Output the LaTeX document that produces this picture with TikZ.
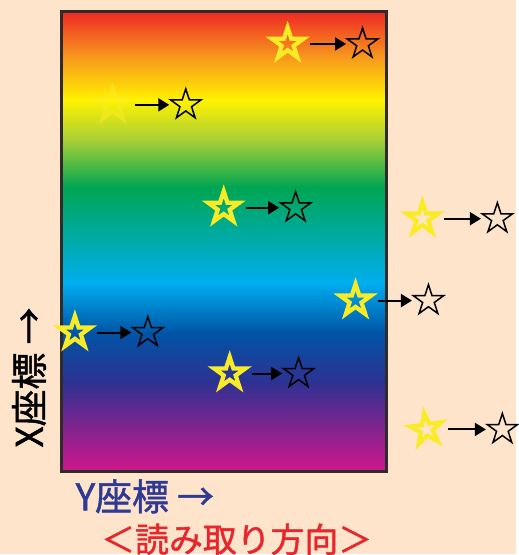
\documentclass[tikz,border=0pt]{standalone}
\usepackage{fontspec}
\newfontfamily\jpfont{Noto Sans CJK JP}[FakeBold=1.3]
\usepackage{tikz}
\usepackage{xcolor}
\usetikzlibrary{arrows.meta,shapes.geometric,calc}

\definecolor{paper}{HTML}{FDE4CA}
\definecolor{frame}{HTML}{2F2B2B}
\definecolor{rbRed}{HTML}{EE2A24}
\definecolor{rbOrange}{HTML}{F7941D}
\definecolor{rbYellow}{HTML}{FFF200}
\definecolor{rbLime}{HTML}{A8CF38}
\definecolor{rbGreen}{HTML}{00A651}
\definecolor{rbCyan}{HTML}{00AEEF}
\definecolor{rbBlue}{HTML}{0054A6}
\definecolor{rbIndigo}{HTML}{2E3192}
\definecolor{rbMagenta}{HTML}{D0178C}
\definecolor{starYellow}{HTML}{F9EC27}
\definecolor{axisBlue}{HTML}{2E3A93}
\definecolor{readRed}{HTML}{E8262B}

\begin{document}
\begin{tikzpicture}[
		x=0.02cm,
		y=0.02cm,
		line join=miter,
		ystar/.style={
			star,
			star points=5,
			star point ratio=2.618,
			minimum size=0.66cm,
			inner sep=0pt,
			draw=starYellow,
			line width=0.085cm
		},
		bstar/.style={
			star,
			star points=5,
			star point ratio=2.618,
			minimum size=0.64cm,
			inner sep=0pt,
			draw=black,
			line width=0.03cm
		},
		shiftarrow/.style={
			draw=black,
			line width=0.04cm,
			shorten <=0.44cm,
			shorten >=0.33cm,
			-{Triangle[length=2.2mm,width=2.6mm]}
		},
		labeltext/.style={
			font=\jpfont\fontsize{21pt}{24pt}\selectfont,
			inner sep=0pt
		}
		]
		
		% background
		\fill[paper] (0,0) rectangle (517,555);
		
		% rainbow plate
		\shade[top color=rbRed,     bottom color=rbOrange]  (62,499.5) rectangle (387,543);
		\shade[top color=rbOrange,  bottom color=rbYellow]  (62,454.5) rectangle (387,500);
		\shade[top color=rbYellow,  bottom color=rbLime]    (62,414.5) rectangle (387,455);
		\shade[top color=rbLime,    bottom color=rbGreen]   (62,367.5) rectangle (387,415);
		\shade[top color=rbGreen,   bottom color=rbCyan]    (62,271.5) rectangle (387,368);
		\shade[top color=rbCyan,    bottom color=rbBlue]    (62,221.5) rectangle (387,272);
		\shade[top color=rbBlue,    bottom color=rbIndigo]  (62,171.5) rectangle (387,222);
		\shade[top color=rbIndigo,  bottom color=rbMagenta] (62,83)    rectangle (387,172);
		\draw[frame,line width=0.06cm] (62,83) rectangle (387,543);
		
		% stars before reading
		\node[ystar] (y1) at (288,511) {};
		\node[ystar,draw opacity=0.5] (y2) at (113,450) {};
		\node[ystar] (y3) at (224,347) {};
		\node[ystar] (y4) at (423,336) {};
		\node[ystar] (y5) at (356,254) {};
		\node[ystar] (y6) at (75,222) {};
		\node[ystar] (y7) at (230,181) {};
		\node[ystar,shape border rotate=8] (y8) at (427,125) {};
		
		% stars after reading
		\node[bstar] (b1) at (363,511) {};
		\node[bstar] (b2) at (186,450) {};
		\node[bstar] (b3) at (296,347) {};
		\node[bstar] (b4) at (498,336) {};
		\node[bstar] (b5) at (429,254) {};
		\node[bstar] (b6) at (148,222) {};
		\node[bstar] (b7) at (299,181) {};
		\node[bstar] (b8) at (503,125) {};
		
		% shifts
		\draw[shiftarrow] (y1.center) -- (b1.center);
		\draw[shiftarrow] (y2.center) -- (b2.center);
		\draw[shiftarrow] (y3.center) -- (b3.center);
		\draw[shiftarrow] (y4.center) -- (b4.center);
		\draw[shiftarrow] (y5.center) -- (b5.center);
		\draw[shiftarrow] (y6.center) -- (b6.center);
		\draw[shiftarrow] (y7.center) -- (b7.center);
		\draw[shiftarrow] (y8.center) -- (b8.center);
		
		% axis labels
		\node[labeltext,rotate=90,text=black] (xaxis) at (29,177) {X座標 →};
		\node[labeltext,text=axisBlue] (yaxis) at (145,58) {Y座標 →};
		\node[labeltext,text=readRed,font=\jpfont\fontsize{19.3pt}{22pt}\selectfont] (readdir) at (237,15) {＜読み取り方向＞};
\end{tikzpicture}
\end{document}
